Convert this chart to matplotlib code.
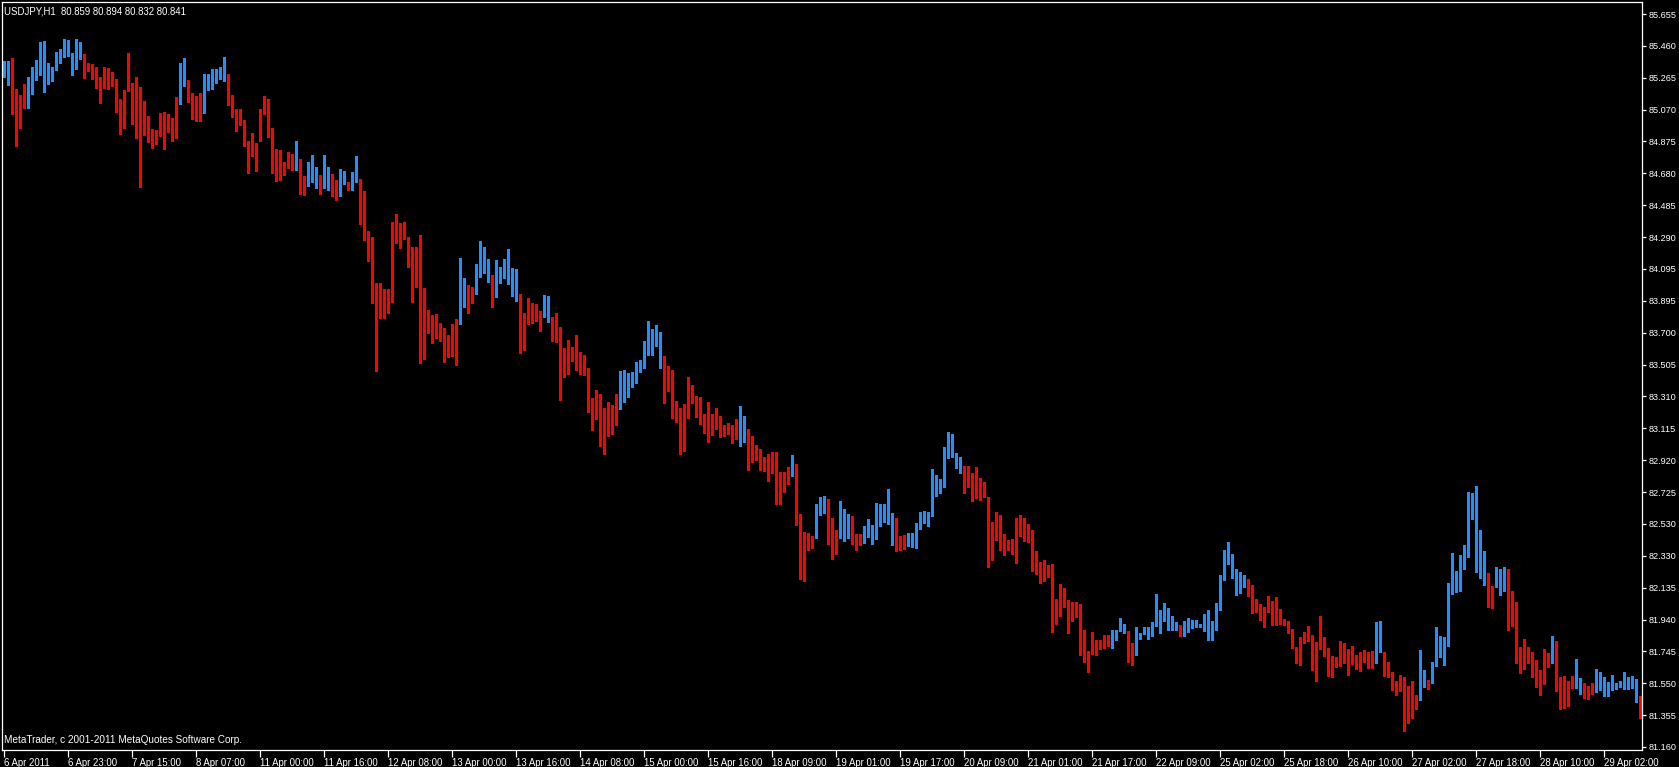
import matplotlib
matplotlib.use("Agg")
import matplotlib.pyplot as plt
import numpy as np

plt.rcParams['font.family'] = ['Liberation Sans', 'DejaVu Sans']

title = "USDJPY,H1  80.859 80.894 80.832 80.841"
copyright_text = "MetaTrader, c 2001-2011 MetaQuotes Software Corp."

highs = [
    85.367, 85.367, 85.385, 85.195, 85.158, 85.226, 85.269, 85.330, 85.373, 85.483,
    85.490, 85.355, 85.330, 85.422, 85.440, 85.502, 85.496, 85.416, 85.502, 85.483,
    85.410, 85.355, 85.349, 85.330, 85.269, 85.330, 85.324, 85.299, 85.257, 85.134,
    85.189, 85.416, 85.232, 85.269, 85.207, 85.122, 85.030, 84.950, 84.944, 85.048,
    85.054, 85.042, 85.017, 85.146, 85.355, 85.385, 85.250, 85.171, 85.152, 85.171,
    85.287, 85.287, 85.318, 85.318, 85.330, 85.391, 85.287, 85.158, 85.073, 85.073,
    85.005, 84.876, 84.925, 84.864, 85.073, 85.152, 85.134, 84.956, 84.827, 84.821,
    84.748, 84.809, 84.797, 84.876, 84.766, 84.662, 84.748, 84.790, 84.717, 84.668,
    84.790, 84.717, 84.674, 84.637, 84.704, 84.692, 84.625, 84.686, 84.784, 84.643,
    84.570, 84.324, 84.288, 84.005, 84.005, 83.969, 83.969, 84.380, 84.429, 84.373,
    84.380, 84.288, 84.226, 84.226, 84.300, 83.975, 83.840, 83.809, 83.815, 83.760,
    83.730, 83.687, 83.754, 83.785, 84.159, 84.036, 83.993, 83.981, 84.122, 84.263,
    84.226, 84.153, 84.054, 84.146, 84.104, 84.153, 84.214, 84.097, 84.091, 83.938,
    83.821, 83.913, 83.883, 83.877, 83.834, 83.932, 83.926, 83.797, 83.821, 83.736,
    83.607, 83.656, 83.613, 83.687, 83.582, 83.564, 83.484, 83.300, 83.349, 83.325,
    83.239, 83.276, 83.257, 83.325, 83.466, 83.472, 83.454, 83.460, 83.521, 83.533,
    83.650, 83.772, 83.723, 83.748, 83.705, 83.558, 83.497, 83.472, 83.282, 83.239,
    83.264, 83.429, 83.380, 83.313, 83.306, 83.202, 83.276, 83.202, 83.239, 83.190,
    83.135, 83.147, 83.135, 83.172, 83.251, 83.190, 83.110, 83.067, 83.012, 82.988,
    82.939, 82.957, 82.969, 82.969, 82.847, 82.847, 82.877, 82.951, 82.896, 82.589,
    82.479, 82.473, 82.454, 82.650, 82.693, 82.699, 82.681, 82.565, 82.491, 82.669,
    82.620, 82.589, 82.577, 82.466, 82.466, 82.515, 82.558, 82.522, 82.656, 82.650,
    82.650, 82.742, 82.595, 82.565, 82.454, 82.460, 82.473, 82.473, 82.534, 82.601,
    82.607, 82.601, 82.865, 82.828, 82.804, 83.000, 83.092, 83.080, 82.963, 82.939,
    82.883, 82.883, 82.840, 82.877, 82.810, 82.785, 82.693, 82.541, 82.602, 82.584,
    82.467, 82.430, 82.437, 82.565, 82.584, 82.565, 82.529, 82.492, 82.363, 82.296,
    82.308, 82.277, 82.283, 82.069, 82.161, 82.136, 82.063, 82.050, 82.050, 82.038,
    81.879, 81.750, 81.866, 81.817, 81.817, 81.848, 81.848, 81.879, 81.879, 81.952,
    81.915, 81.872, 81.799, 81.897, 81.860, 81.897, 81.897, 81.928, 82.099, 82.001,
    82.044, 82.013, 81.964, 81.928, 81.909, 81.934, 81.952, 81.940, 81.940, 81.915,
    81.977, 82.001, 81.934, 82.044, 82.216, 82.369, 82.418, 82.345, 82.253, 82.234,
    82.216, 82.191, 82.154, 82.069, 82.038, 82.020, 82.087, 82.056, 82.081, 82.007,
    81.946, 81.934, 81.885, 81.774, 81.836, 81.866, 81.903, 81.848, 81.805, 81.964,
    81.835, 81.768, 81.718, 81.712, 81.810, 81.798, 81.761, 81.780, 81.725, 81.743,
    81.755, 81.743, 81.749, 81.927, 81.933, 81.743, 81.682, 81.620, 81.565, 81.602,
    81.590, 81.534, 81.565, 81.479, 81.755, 81.633, 81.571, 81.682, 81.896, 81.841,
    81.835, 82.166, 82.350, 82.240, 82.338, 82.399, 82.724, 82.718, 82.761, 82.491,
    82.362, 82.227, 82.148, 82.264, 82.252, 82.264, 82.252, 82.117, 82.050, 81.774,
    81.823, 81.774, 81.743, 81.694, 81.633, 81.761, 81.737, 81.841, 81.810, 81.590,
    81.596, 81.565, 81.596, 81.700, 81.584, 81.553, 81.534, 81.553, 81.639, 81.620,
    81.590, 81.559, 81.602, 81.553, 81.565, 81.620, 81.590, 81.596, 81.577, 81.473,
]

lows = [
    85.265, 85.216, 85.038, 84.842, 84.948, 85.075, 85.075, 85.160, 85.246, 85.277,
    85.173, 85.222, 85.240, 85.308, 85.351, 85.387, 85.393, 85.277, 85.314, 85.375,
    85.259, 85.301, 85.252, 85.197, 85.105, 85.197, 85.191, 85.210, 85.050, 84.915,
    84.952, 85.179, 84.976, 84.891, 84.590, 84.909, 84.866, 84.829, 84.854, 84.903,
    84.823, 84.927, 84.872, 84.891, 85.099, 85.210, 85.111, 85.007, 84.995, 84.995,
    85.044, 85.185, 85.191, 85.228, 85.252, 85.240, 85.093, 85.019, 84.934, 84.970,
    84.842, 84.676, 84.780, 84.688, 84.872, 85.038, 84.897, 84.676, 84.627, 84.633,
    84.664, 84.707, 84.694, 84.694, 84.547, 84.541, 84.596, 84.621, 84.584, 84.547,
    84.584, 84.572, 84.535, 84.510, 84.535, 84.608, 84.572, 84.572, 84.621, 84.363,
    84.265, 84.136, 83.879, 83.462, 83.787, 83.787, 83.817, 83.885, 84.247, 84.216,
    84.271, 84.099, 83.885, 83.977, 83.511, 83.535, 83.695, 83.633, 83.664, 83.646,
    83.517, 83.548, 83.554, 83.499, 83.750, 83.854, 83.817, 83.879, 83.934, 84.038,
    84.063, 84.007, 83.854, 83.915, 84.001, 84.032, 83.995, 83.922, 83.891, 83.572,
    83.591, 83.750, 83.756, 83.768, 83.707, 83.793, 83.762, 83.646, 83.640, 83.284,
    83.425, 83.443, 83.523, 83.468, 83.443, 83.437, 83.210, 83.100, 83.167, 83.002,
    82.951, 83.063, 83.075, 83.131, 83.229, 83.272, 83.302, 83.364, 83.388, 83.456,
    83.480, 83.560, 83.560, 83.615, 83.480, 83.266, 83.339, 83.174, 83.149, 82.953,
    82.971, 83.174, 83.266, 83.180, 83.137, 83.082, 83.026, 83.069, 83.106, 83.057,
    83.063, 83.075, 83.020, 83.045, 83.002, 83.026, 82.855, 82.904, 82.916, 82.855,
    82.849, 82.787, 82.836, 82.646, 82.646, 82.720, 82.769, 82.818, 82.518, 82.186,
    82.174, 82.364, 82.376, 82.438, 82.579, 82.591, 82.401, 82.309, 82.340, 82.438,
    82.419, 82.438, 82.401, 82.364, 82.395, 82.407, 82.444, 82.401, 82.432, 82.511,
    82.536, 82.524, 82.395, 82.358, 82.364, 82.370, 82.389, 82.383, 82.376, 82.493,
    82.530, 82.511, 82.573, 82.695, 82.714, 82.750, 82.928, 82.934, 82.867, 82.836,
    82.714, 82.750, 82.665, 82.683, 82.671, 82.689, 82.260, 82.298, 82.426, 82.359,
    82.334, 82.365, 82.340, 82.285, 82.445, 82.420, 82.408, 82.236, 82.212, 82.157,
    82.169, 82.199, 81.862, 81.911, 81.960, 82.015, 81.856, 81.924, 81.954, 81.721,
    81.678, 81.611, 81.727, 81.721, 81.752, 81.764, 81.776, 81.764, 81.807, 81.868,
    81.856, 81.678, 81.654, 81.715, 81.819, 81.844, 81.819, 81.832, 81.893, 81.850,
    81.924, 81.874, 81.874, 81.874, 81.832, 81.832, 81.862, 81.881, 81.887, 81.887,
    81.868, 81.813, 81.807, 81.874, 81.991, 82.181, 82.279, 82.193, 82.083, 82.101,
    82.132, 82.077, 81.973, 81.979, 81.930, 81.887, 81.979, 81.899, 81.905, 81.911,
    81.899, 81.856, 81.764, 81.666, 81.654, 81.789, 81.801, 81.623, 81.556, 81.752,
    81.714, 81.592, 81.586, 81.647, 81.653, 81.671, 81.598, 81.665, 81.635, 81.622,
    81.678, 81.641, 81.641, 81.671, 81.739, 81.592, 81.586, 81.506, 81.475, 81.500,
    81.254, 81.304, 81.334, 81.389, 81.445, 81.524, 81.512, 81.549, 81.653, 81.708,
    81.659, 81.776, 82.095, 82.107, 82.113, 82.248, 82.321, 82.554, 82.229, 82.193,
    82.150, 82.015, 82.009, 82.137, 82.088, 82.113, 81.874, 81.898, 81.671, 81.610,
    81.635, 81.671, 81.586, 81.524, 81.475, 81.543, 81.647, 81.671, 81.500, 81.389,
    81.396, 81.408, 81.518, 81.518, 81.481, 81.457, 81.451, 81.481, 81.494, 81.506,
    81.469, 81.469, 81.506, 81.512, 81.524, 81.512, 81.512, 81.518, 81.432, 81.334,
]

# bar direction, as runs of (direction, number of consecutive bars)
direction_runs = [
    ("up", 2), ("down", 4), ("up", 14), ("down", 24), ("up", 2), ("down", 4),
    ("up", 6), ("down", 17), ("up", 1), ("down", 2), ("up", 3), ("down", 1),
    ("up", 2), ("down", 2), ("up", 2), ("down", 1), ("up", 2), ("down", 25),
    ("up", 2), ("down", 2), ("up", 4), ("down", 1), ("up", 6), ("down", 6),
    ("up", 2), ("down", 17), ("up", 11), ("down", 19), ("up", 2), ("down", 11),
    ("up", 1), ("down", 5), ("up", 3), ("down", 3), ("up", 3), ("down", 3),
    ("up", 8), ("down", 3), ("up", 14), ("down", 37), ("up", 4), ("down", 2),
    ("up", 11), ("down", 1), ("up", 16), ("down", 32), ("up", 2), ("down", 9),
    ("up", 2), ("down", 1), ("up", 14), ("down", 2), ("up", 3), ("down", 11),
    ("up", 1), ("down", 5), ("up", 2), ("down", 3), ("up", 11), ("down", 1),
]

x_tick_index = [0, 16, 32, 48, 64, 80, 96, 112, 128, 144, 160, 176, 192,
                208, 224, 240, 256, 272, 288, 304, 320, 336, 352, 368, 384, 400]
x_tick_labels = ["6 Apr 2011", "6 Apr 23:00", "7 Apr 15:00", "8 Apr 07:00",
                 "11 Apr 00:00", "11 Apr 16:00", "12 Apr 08:00", "13 Apr 00:00",
                 "13 Apr 16:00", "14 Apr 08:00", "15 Apr 00:00", "15 Apr 16:00",
                 "18 Apr 09:00", "19 Apr 01:00", "19 Apr 17:00", "20 Apr 09:00",
                 "21 Apr 01:00", "21 Apr 17:00", "22 Apr 09:00", "25 Apr 02:00",
                 "25 Apr 18:00", "26 Apr 10:00", "27 Apr 02:00", "27 Apr 18:00",
                 "28 Apr 10:00", "29 Apr 02:00"]
y_tick_labels = ["85.655", "85.460", "85.265", "85.070", "84.875", "84.680",
                 "84.485", "84.290", "84.095", "83.895", "83.700", "83.505",
                 "83.310", "83.115", "82.920", "82.725", "82.530", "82.330",
                 "82.135", "81.940", "81.745", "81.550", "81.355", "81.160"]

UP_COLOR = "#1E90FF"
DOWN_COLOR = "#FF0000"

directions = []
for d, n in direction_runs:
    directions.extend([d] * n)

W, H = 1679, 767
fig = plt.figure(figsize=(W / 100, H / 100), dpi=100, facecolor="black")
ax = fig.add_axes([2 / W, (H - 750) / H, (1642 - 2) / W, (750 - 2) / H])
ax.set_facecolor("black")

xs = np.arange(len(highs))
hi = np.array(highs)
lo = np.array(lows)
colors = [UP_COLOR if d == "up" else DOWN_COLOR for d in directions]
ax.bar(xs, hi - lo, bottom=lo, width=0.75, color=colors, linewidth=0,
       antialiased=False)

ax.set_xlim(-0.5, 409.5)
ax.set_ylim(81.1416, 85.7286)

for s in ax.spines.values():
    s.set_color("white")
    s.set_linewidth(0.9)

ax.yaxis.tick_right()
ax.set_yticks(np.linspace(float(y_tick_labels[0]), float(y_tick_labels[-1]),
                          len(y_tick_labels)))
ax.set_yticklabels(y_tick_labels)
ax.tick_params(axis="y", colors="white", length=3, width=0.9, pad=2,
               labelsize=6.6, direction="out")

ax.set_xticks(x_tick_index)
ax.set_xticklabels(x_tick_labels)
ax.tick_params(axis="x", colors="white", length=5, width=0.9, pad=0.5,
               labelsize=6.9, direction="out")
for lbl in ax.get_xticklabels():
    lbl.set_horizontalalignment("left")

fig.text(4 / W, 1 - 11 / H, title, color="white", fontsize=6.9,
         ha="left", va="center")
fig.text(4 / W, 1 - 740 / H, copyright_text, color="white", fontsize=7.2,
         ha="left", va="center")

fig.savefig("out.png", dpi=100, facecolor="black")
